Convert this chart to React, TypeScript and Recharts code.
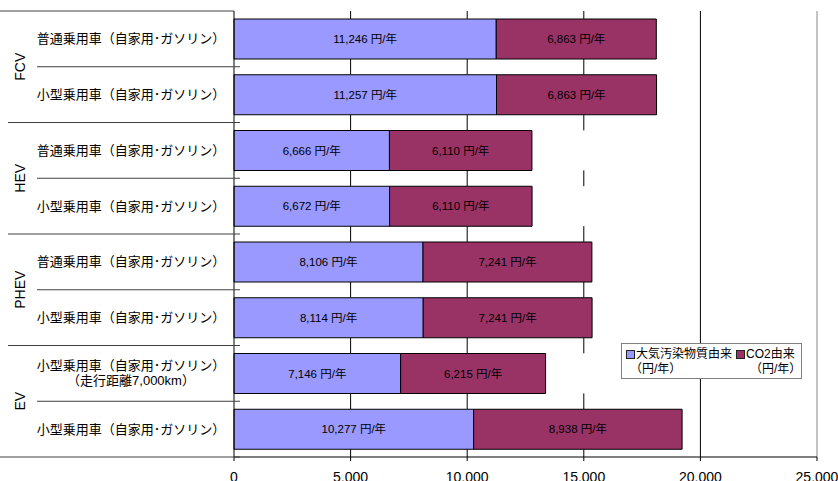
import React from 'react';
import { BarChart, Bar, XAxis, YAxis, CartesianGrid, LabelList, Legend, ReferenceLine } from 'recharts';

const groups = ['FCV', 'FCV', 'HEV', 'HEV', 'PHEV', 'PHEV', 'EV', 'EV'];
const vehicles = [
  '普通乗用車（自家用･ガソリン）',
  '小型乗用車（自家用･ガソリン）',
  '普通乗用車（自家用･ガソリン）',
  '小型乗用車（自家用･ガソリン）',
  '普通乗用車（自家用･ガソリン）',
  '小型乗用車（自家用･ガソリン）',
  '小型乗用車（自家用･ガソリン）\n（走行距離7,000km）',
  '小型乗用車（自家用･ガソリン）',
];
const airPollution = [11246, 11257, 6666, 6672, 8106, 8114, 7146, 10277];
const co2 = [6863, 6863, 6110, 6110, 7241, 7241, 6215, 8938];
const seriesNames = ['大気汚染物質由来', 'CO2由来'];
const seriesColors = ['#9999FF', '#993366'];
const unitLabel = '（円/年）';
const xTicks = [0, 5000, 10000, 15000, 20000, 25000];
const X_MAX = 25000;
const FULL_LINE_AT = 20000;

const data = vehicles.map((name, i) => ({
  id: `${groups[i]}-${i}`,
  group: groups[i],
  name,
  air: airPollution[i],
  co2: co2[i],
}));

const W = 838;
const H = 481;
const TOP = 11;
const LEFT_W = 234;
const RIGHT = 21;
const X_AXIS_H = 24;
const BAR = 40;
const PLOT_W = W - LEFT_W - RIGHT;
const ROW_H = (H - TOP - X_AXIS_H) / data.length;

const FONT = '"Liberation Sans", Arial, "Noto Sans CJK JP", sans-serif';
const LINE = '#404040';

const fmt = (v: number) => v.toLocaleString('en-US');

// vertical grid: the 20,000 line runs full height, the others only show in the gaps between bars
const GridLine = (props: any) => {
  const { x1, y1, y2 } = props;
  const value = Math.round((((x1 - LEFT_W) / PLOT_W) * X_MAX) / 5000) * 5000;
  if (value === 0 || value === X_MAX) return <g />;
  if (value === FULL_LINE_AT) return <line x1={x1} x2={x1} y1={y1} y2={y2} stroke="#000" />;
  const pad = (ROW_H - BAR) / 2;
  const segs = [];
  for (let i = 0; i <= data.length; i++) {
    const b = y1 + i * ROW_H;
    segs.push(
      <line key={i} x1={x1} x2={x1} y1={Math.max(y1, b - pad)} y2={Math.min(y2, b + pad)} stroke="#000" />
    );
  }
  return <g>{segs}</g>;
};

// category column: vehicle labels, group labels and the row separators
const CategoryTick = (props: any) => {
  const { y, payload } = props;
  const i = data.findIndex((d) => d.id === payload.value);
  if (i < 0) return null;
  const row = data[i];
  const half = ROW_H / 2;
  const first = i === 0 || data[i - 1].group !== row.group;
  const last = i === data.length - 1 || data[i + 1].group !== row.group;
  const size = data.filter((d) => d.group === row.group).length;
  const lines = row.name.split('\n');
  const lineH = 15;
  const gy = y + ((size - 1) * ROW_H) / 2;
  return (
    <g>
      {i === 0 && <line x1={0} x2={LEFT_W} y1={y - half} y2={y - half} stroke={LINE} />}
      <line x1={last ? (i === data.length - 1 ? 0 : 8) : 37} x2={LEFT_W + 6} y1={y + half} y2={y + half} stroke={LINE} />
      {lines.map((t, k) => (
        <text
          key={k}
          x={131}
          y={y + (k - (lines.length - 1) / 2) * lineH}
          textAnchor="middle"
          dominantBaseline="central"
          fontSize={13}
          fontFamily={FONT}
          fill="#000"
        >
          {t}
        </text>
      ))}
      {first && (
        <text
          x={20}
          y={gy}
          transform={`rotate(-90 20 ${gy})`}
          textAnchor="middle"
          dominantBaseline="central"
          fontSize={14}
          fontFamily={FONT}
          fill="#000"
        >
          {row.group}
        </text>
      )}
    </g>
  );
};

const LegendBox = () => (
  <div
    style={{
      border: '1px solid #808080',
      background: '#fff',
      display: 'flex',
      padding: '3px 4px',
      fontFamily: FONT,
      fontSize: 12,
      lineHeight: '15px',
      color: '#000',
      boxSizing: 'border-box',
      height: '100%',
      whiteSpace: 'nowrap',
    }}
  >
    {seriesNames.map((name, i) => (
      <div key={name} style={{ marginRight: i === 0 ? 4 : 0 }}>
        <div style={{ display: 'flex', alignItems: 'center' }}>
          <span
            style={{
              display: 'inline-block',
              width: 7,
              height: 7,
              background: seriesColors[i],
              border: '1px solid #222',
              marginRight: 1,
            }}
          />
          {name}
        </div>
        <div style={{ paddingLeft: i === 0 ? 4 : 14 }}>{unitLabel}</div>
      </div>
    ))}
  </div>
);

const App = () => {
  return (
    <div style={{ width: W, height: H }}>
      <style>{'body{margin:0}'}</style>
      <BarChart
        width={W}
        height={H}
        data={data}
        layout="vertical"
        margin={{ top: TOP, right: RIGHT, bottom: 0, left: 0 }}
      >
        <CartesianGrid horizontal={false} vertical={<GridLine />} />
        <XAxis
          type="number"
          domain={[0, X_MAX]}
          ticks={xTicks}
          tickFormatter={fmt}
          height={X_AXIS_H}
          tickSize={4}
          tickMargin={11}
          axisLine={{ stroke: '#000' }}
          tickLine={{ stroke: '#000' }}
          tick={{ fontSize: 14, fontFamily: FONT, fill: '#000' }}
        />
        <XAxis
          xAxisId="top"
          orientation="top"
          type="number"
          domain={[0, X_MAX]}
          height={0}
          tick={false}
          tickLine={false}
          axisLine={{ stroke: '#888' }}
        />
        <YAxis
          type="category"
          dataKey="id"
          width={LEFT_W}
          interval={0}
          tickLine={false}
          axisLine={{ stroke: '#000' }}
          tick={<CategoryTick />}
        />
        <ReferenceLine x={X_MAX} stroke="#888" />
        <Bar dataKey="air" name={seriesNames[0]} stackId="a" fill={seriesColors[0]} stroke="#000" barSize={BAR} isAnimationActive={false}>
          <LabelList dataKey="air" position="center" formatter={(v: any) => `${fmt(v)} 円/年`} fill="#000" fontSize={11.5} fontFamily={FONT} />
        </Bar>
        <Bar dataKey="co2" name={seriesNames[1]} stackId="a" fill={seriesColors[1]} stroke="#000" barSize={BAR} isAnimationActive={false}>
          <LabelList dataKey="co2" position="center" formatter={(v: any) => `${fmt(v)} 円/年`} fill="#000" fontSize={11.5} fontFamily={FONT} />
        </Bar>
        <Legend
          layout="vertical"
          align="center"
          verticalAlign="middle"
          wrapperStyle={{ left: 621, top: 343, width: 181, height: 36 }}
          content={<LegendBox />}
        />
      </BarChart>
    </div>
  );
};

export default App;
